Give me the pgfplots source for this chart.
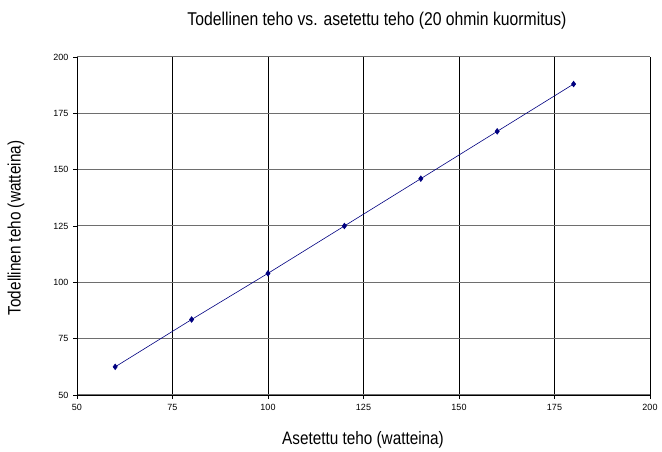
\documentclass[border=0pt]{standalone}
\usepackage{fontspec}
\setmainfont{Liberation Sans}
\newfontfamily\narrowfont[FakeStretch=0.85]{Liberation Sans}
\usepackage{pgfplots}
\pgfplotsset{compat=1.18}
\definecolor{navy}{RGB}{0,0,128}
\definecolor{gridgray}{RGB}{110,110,110}
\begin{document}
\begin{tikzpicture}[x=1pt,y=1pt]
\path[use as bounding box] (0,0) rectangle (662,452);
\begin{axis}[
  at={(77pt,57pt)}, anchor=south west,
  scale only axis, width=573pt, height=338pt,
  xmin=50, xmax=200, ymin=50, ymax=200,
  xtick={50,75,...,200}, ytick={50,75,...,200},
  axis x line*=bottom, axis y line*=left,
  axis line style={black, line width=0.9pt, -},
  tick style={black, line width=0.8pt},
  tick align=outside, major tick length=4pt,
  xmajorgrids, ymajorgrids,
  x grid style={black, line width=0.8pt},
  y grid style={gridgray, line width=1pt},
  /pgf/number format/assume math mode=true,
  ticklabel style={font=\fontsize{9}{10}\selectfont},
  xticklabel style={yshift=-2pt},
  yticklabel style={xshift=-1pt},
  clip=false,
]
\addplot[navy, line width=0.6pt, mark=diamond*, mark size=2.8pt, mark options={fill=navy, draw=navy}]
coordinates {(60,62.5) (80,83.5) (100,104) (120,125) (140,146) (160,167) (180,188)};
\end{axis}
\node[anchor=center, font=\narrowfont\fontsize{18.5}{20}\selectfont] at (377,431) {Todellinen teho vs. asetettu teho (20 ohmin kuormitus)};
\node[anchor=center, font=\narrowfont\fontsize{18}{20}\selectfont] at (363,12) {Asetettu teho (watteina)};
\node[anchor=center, rotate=90, font=\narrowfont\fontsize{18}{20}\selectfont] at (16,224) {Todellinen teho (watteina)};
\end{tikzpicture}
\end{document}
